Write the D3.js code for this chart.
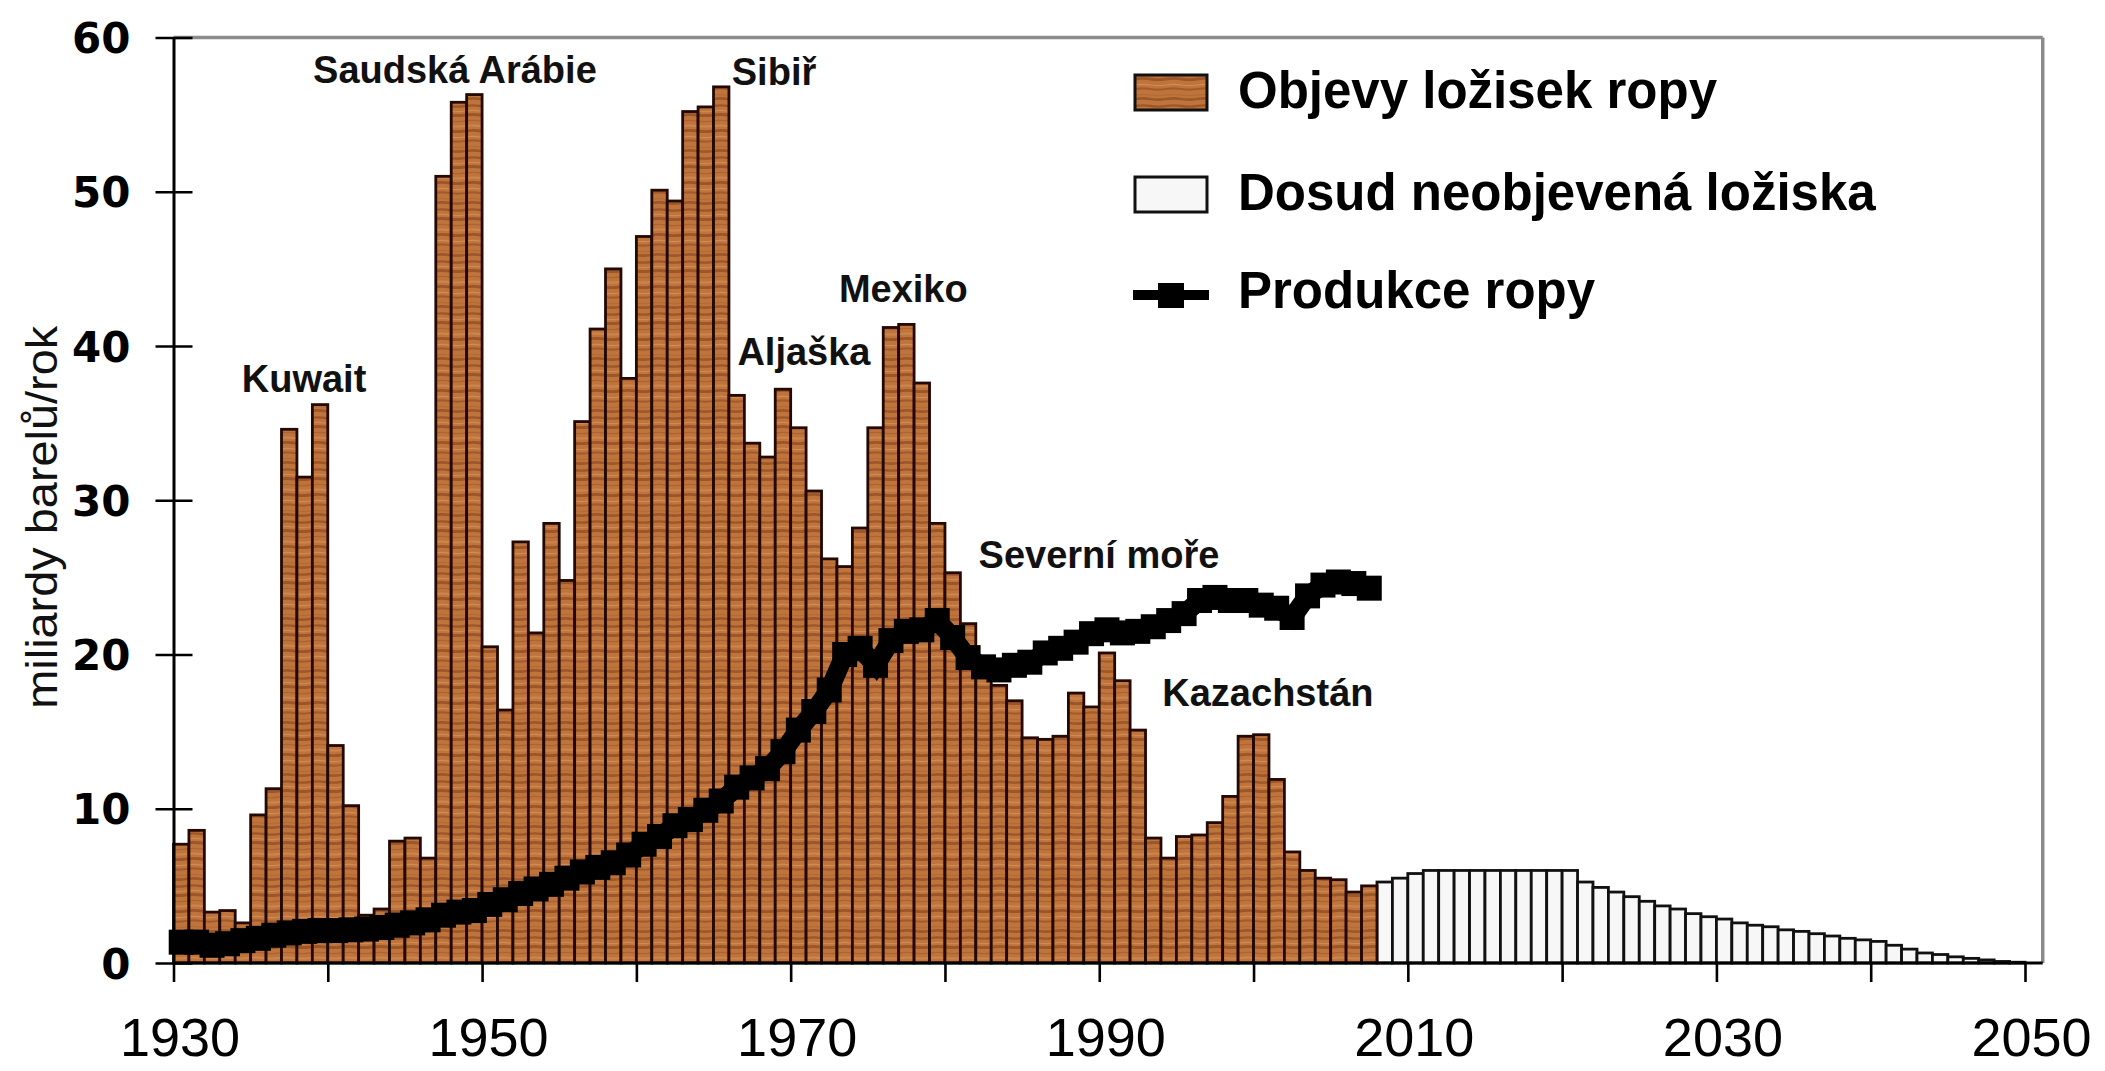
<!DOCTYPE html>
<html><head><meta charset="utf-8">
<script src="https://cdn.jsdelivr.net/npm/d3@7"></script>
<style>
html,body{margin:0;padding:0;background:#fff;}
svg{display:block;}
</style></head><body>
<svg id="chart" width="2105" height="1071"></svg>
<script>
// ---------- DATA ----------
const discoveryYears = d3.range(1930, 2008);
const discoveries = [
  7.7, 8.6, 3.3, 3.4, 2.6, 9.6, 11.3, 34.6, 31.5, 36.2,
  14.1, 10.2, 3.1, 3.5, 7.9, 8.1, 6.8, 51.0, 55.8, 56.3,
  20.5, 16.4, 27.3, 21.4, 28.5, 24.8, 35.1, 41.1, 45.0, 37.9,
  47.1, 50.1, 49.4, 55.2, 55.5, 56.8, 36.8, 33.7, 32.8, 37.2,
  34.7, 30.6, 26.2, 25.7, 28.2, 34.7, 41.2, 41.4, 37.6, 28.5,
  25.3, 22.0, 19.5, 18.0, 17.0, 14.6, 14.5, 14.7, 17.5, 16.6,
  20.1, 18.3, 15.1, 8.1, 6.8, 8.2, 8.3, 9.1, 10.8, 14.7,
  14.8, 11.9, 7.2, 6.0, 5.5, 5.4, 4.6, 5.0
];
const undiscoveredYears = d3.range(2008, 2050);
const undiscovered = [
  5.25, 5.5, 5.8, 6.0, 6.0, 6.0, 6.0, 6.0, 6.0, 6.0, 6.0, 6.0, 6.0,
  5.25, 4.9, 4.6, 4.3, 4.0, 3.7, 3.5, 3.2, 3.0, 2.85, 2.6, 2.45, 2.35,
  2.15, 2.05, 1.9, 1.75, 1.6, 1.5, 1.4, 1.15, 0.9, 0.65, 0.55, 0.4, 0.3, 0.2, 0.1, 0.05
];
const productionYears = d3.range(1930, 2008);
const production = [
  1.35, 1.35, 1.15, 1.25, 1.45, 1.6, 1.8, 1.95, 2.05, 2.1,
  2.1, 2.15, 2.2, 2.3, 2.45, 2.6, 2.8, 3.1, 3.3, 3.4,
  3.8, 4.1, 4.5, 4.8, 5.1, 5.5, 5.9, 6.2, 6.5, 7.0,
  7.7, 8.2, 8.9, 9.3, 9.9, 10.5, 11.4, 12.0, 12.6, 13.7,
  15.1, 16.3, 17.7, 20.0, 20.4, 19.3, 20.9, 21.5, 21.6, 22.2,
  21.1, 19.8, 19.2, 19.0, 19.3, 19.5, 20.1, 20.4, 20.8, 21.35,
  21.6, 21.4, 21.5, 21.8, 22.2, 22.65, 23.5, 23.7, 23.5, 23.5,
  23.2, 23.0, 22.4, 23.8, 24.5, 24.7, 24.6, 24.3
];
const yTicks = [0, 10, 20, 30, 40, 50, 60];
const xTicks = [1930, 1940, 1950, 1960, 1970, 1980, 1990, 2000, 2010, 2020, 2030, 2040, 2050];
const xTickLabels = ["1930", "", "1950", "", "1970", "", "1990", "", "2010", "", "2030", "", "2050"];
const annotationLabels = ["Kuwait", "Saudská Arábie", "Sibiř", "Mexiko", "Aljaška", "Severní moře", "Kazachstán"];
const annotationYears  = [1938.46, 1948.24, 1968.92, 1977.3, 1970.86, 1989.98, 2000.93];
const annotationValues = [37.0, 57.05, 56.9, 42.85, 38.8, 25.6, 16.66];
const legendLabels = ["Objevy ložisek ropy", "Dosud neobjevená ložiska", "Produkce ropy"];
const yAxisTitle = "miliardy barelů/rok";

// ---------- SCALES ----------
const svg = d3.select("#chart");
const x = d3.scaleLinear().domain([1930, 2050]).range([173.5, 2025]);
const y = d3.scaleLinear().domain([0, 60]).range([963, 37.5]);
const frameRight = x(2051.15);

// ---------- WOOD PATTERN ----------
const defs = svg.append("defs");
const pat = defs.append("pattern").attr("id", "wood")
  .attr("patternUnits", "userSpaceOnUse").attr("width", 31).attr("height", 52);
pat.append("rect").attr("width", 31).attr("height", 52).attr("fill", "#bf743c");
const streaks = [
  [2, 2.4, "#86421d", 0.6], [7, 1.2, "#dc9a62", 0.55], [11, 3, "#783817", 0.5],
  [17, 1.4, "#a4592a", 0.6], [22, 2, "#d9975e", 0.5], [27, 2.8, "#803c19", 0.55],
  [33, 1.2, "#e1a46c", 0.5], [37, 2.2, "#8b4620", 0.55], [43, 1.5, "#b2652f", 0.6],
  [47, 2.6, "#7a3917", 0.5]
];
streaks.forEach(s => {
  pat.append("path")
    .attr("d", `M0,${s[0]} Q8,${s[0]-1.2} 15.5,${s[0]} T31,${s[0]}`)
    .attr("fill", "none").attr("stroke", s[2]).attr("stroke-width", s[1]).attr("opacity", s[3]);
});

// ---------- FRAME ----------
svg.append("line").attr("x1", x(1930)).attr("x2", frameRight).attr("y1", y(60)).attr("y2", y(60))
  .attr("stroke", "#8c8c8c").attr("stroke-width", 3.5);
svg.append("line").attr("x1", frameRight).attr("x2", frameRight).attr("y1", y(60)).attr("y2", y(0))
  .attr("stroke", "#8c8c8c").attr("stroke-width", 3.5);

// ---------- BARS ----------
const disc = discoveryYears.map((yr, i) => ({yr, v: discoveries[i]}));
const undisc = undiscoveredYears.map((yr, i) => ({yr, v: undiscovered[i]}));

svg.append("g").selectAll("rect").data(undisc).join("rect")
  .attr("x", d => x(d.yr)).attr("width", d => x(d.yr + 1) - x(d.yr))
  .attr("y", d => y(d.v)).attr("height", d => y(0) - y(d.v))
  .attr("fill", "#f7f7f7").attr("stroke", "#111").attr("stroke-width", 2.8);

svg.append("g").selectAll("rect").data(disc).join("rect")
  .attr("x", d => x(d.yr)).attr("width", d => x(d.yr + 1) - x(d.yr))
  .attr("y", d => y(d.v)).attr("height", d => y(0) - y(d.v))
  .attr("fill", "url(#wood)").attr("stroke", "#240802").attr("stroke-width", 2.8);

// ---------- PRODUCTION LINE ----------
const prod = productionYears.map((yr, i) => ({yr, v: production[i]}));
const line = d3.line().x(d => x(d.yr + 0.5)).y(d => y(d.v));
svg.append("path").datum(prod).attr("d", line)
  .attr("fill", "none").attr("stroke", "#000").attr("stroke-width", 19).attr("stroke-linejoin", "miter");
svg.append("g").selectAll("rect").data(prod).join("rect")
  .attr("x", d => x(d.yr + 0.5) - 12.5).attr("y", d => y(d.v) - 12.5)
  .attr("width", 25).attr("height", 25).attr("fill", "#000");

// ---------- AXES ----------
const xAxis = d3.axisBottom(x).tickValues(xTicks)
  .tickFormat((d, i) => xTickLabels[i]).tickSizeInner(19).tickSizeOuter(0).tickPadding(36);
const gx = svg.append("g").attr("transform", `translate(0,${y(0)})`).call(xAxis);
gx.select(".domain").remove();
gx.selectAll(".tick line").attr("stroke", "#000").attr("stroke-width", 2.6);
gx.selectAll(".tick text").attr("font-family", "'Liberation Sans', Arial, sans-serif")
  .attr("font-size", 54).attr("fill", "#000").attr("dx", 6);
svg.append("line").attr("x1", x(1930)).attr("x2", frameRight).attr("y1", y(0)).attr("y2", y(0))
  .attr("stroke", "#000").attr("stroke-width", 3);

const yAxis = d3.axisLeft(y).tickValues(yTicks).tickSizeInner(18).tickSizeOuter(0).tickPadding(26);
const gy = svg.append("g").attr("transform", `translate(${x(1930)},0)`).call(yAxis);
gy.select(".domain").attr("stroke", "#000").attr("stroke-width", 3);
gy.selectAll(".tick line").attr("x2", -18).attr("x1", 19).attr("stroke", "#000").attr("stroke-width", 2.6);
gy.selectAll(".tick text").attr("font-family", "'DejaVu Sans', sans-serif").attr("font-weight", "bold")
  .attr("font-size", 42).attr("fill", "#000").attr("dy", "0.36em").attr("x", -43);

// y-axis title
svg.append("text").attr("transform", `translate(57,${(y(0) + y(60)) / 2 + 17}) rotate(-90)`)
  .attr("text-anchor", "middle").attr("font-family", "'Liberation Sans', Arial, sans-serif")
  .attr("font-size", 44).attr("textLength", 383).attr("lengthAdjust", "spacingAndGlyphs")
  .attr("fill", "#111").text(yAxisTitle);

// ---------- ANNOTATIONS ----------
svg.append("g").selectAll("text").data(annotationLabels).join("text")
  .attr("x", (d, i) => x(annotationYears[i])).attr("y", (d, i) => y(annotationValues[i]))
  .attr("text-anchor", "middle").attr("font-family", "'Liberation Sans', Arial, sans-serif")
  .attr("font-weight", "bold").attr("font-size", 38).attr("fill", "#111").text(d => d);

// ---------- LEGEND ----------
const lg = svg.append("g").attr("transform", "translate(1135,0)");
lg.append("rect").attr("x", 0).attr("y", 75).attr("width", 72).attr("height", 35)
  .attr("fill", "url(#wood)").attr("stroke", "#111").attr("stroke-width", 3);
lg.append("rect").attr("x", 0).attr("y", 177).attr("width", 72).attr("height", 35)
  .attr("fill", "#f7f7f7").attr("stroke", "#111").attr("stroke-width", 3);
lg.append("line").attr("x1", -2).attr("x2", 74).attr("y1", 295).attr("y2", 295)
  .attr("stroke", "#000").attr("stroke-width", 10);
lg.append("rect").attr("x", 23).attr("y", 283).attr("width", 26).attr("height", 25).attr("fill", "#000");
lg.selectAll("text.leg").data(legendLabels).join("text").attr("class", "leg")
  .attr("x", 103).attr("y", (d, i) => [108, 210, 308][i])
  .attr("font-family", "'Liberation Sans', Arial, sans-serif").attr("font-weight", "bold")
  .attr("font-size", 51).attr("fill", "#000").text(d => d);
</script>
</body></html>
